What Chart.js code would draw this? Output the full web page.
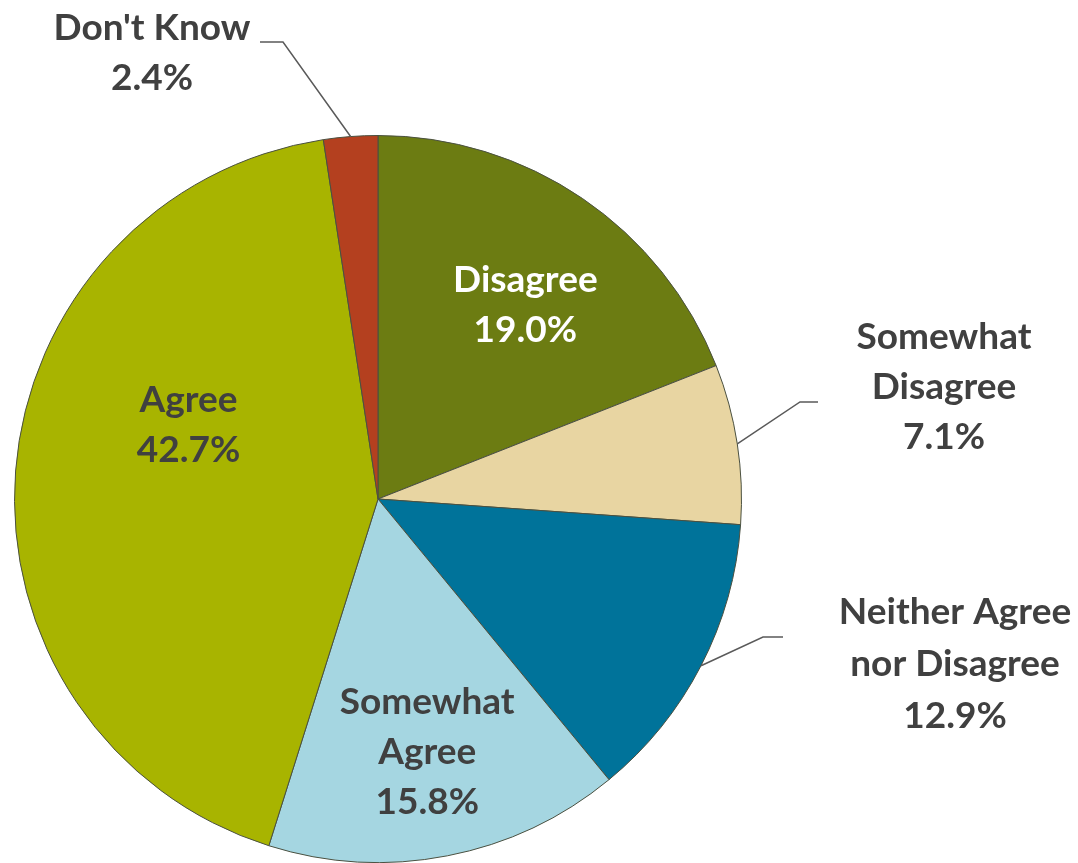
<!DOCTYPE html>
<html>
<head>
<meta charset="utf-8">
<script src="https://cdn.jsdelivr.net/npm/chart.js@4"></script>
<style>
  html, body { margin: 0; padding: 0; background: #fff; }
  #wrap { width: 1078px; height: 863px; }
</style>
</head>
<body>
<div id="wrap"><canvas id="pieChart" width="1078" height="863"></canvas></div>
<script>
// survey responses, clockwise from 12 o'clock
const categories = ['Disagree', 'Somewhat Disagree', 'Neither Agree nor Disagree', 'Somewhat Agree', 'Agree', "Don't Know"];
const shares = [19.0, 7.1, 12.9, 15.8, 42.7, 2.4];
const labelLines = [
  ['Disagree'],
  ['Somewhat', 'Disagree'],
  ['Neither Agree', 'nor Disagree'],
  ['Somewhat', 'Agree'],
  ['Agree'],
  ["Don't Know"]
];
const sliceColors = ['#6c7c12', '#e8d5a2', '#00739a', '#a5d6e1', '#a8b400', '#b4401f'];

// where each label sits: inside ones by polar offset from the slice middle,
// outside ones get a leader line (elbow + tail) and a text block
const labelLayout = [
  { inside: true, angleShift: 3, radius: 0.67, color: '#ffffff' },
  { elbow: [800, 402], tail: [818, 402], text: [944, 337] },
  { elbow: [763, 637], tail: [783, 637], text: [955, 612], lineH: 52 },
  { inside: true, angleShift: 0, radius: 0.71, color: '#404040' },
  { inside: true, angleShift: 17, radius: 0.56, color: '#404040' },
  { elbow: [283, 42], tail: [260, 42], text: [152, 28] }
];

const LINE_H = 50;
const FONT = 'bold 37px Lato, "Open Sans", sans-serif';

const pieLabels = {
  id: 'pieLabels',
  afterDatasetsDraw(chart) {
    const { ctx } = chart;
    const arcs = chart.getDatasetMeta(0).data;
    ctx.save();
    ctx.font = FONT;
    ctx.textAlign = 'center';
    ctx.textBaseline = 'middle';
    arcs.forEach((arc, i) => {
      const lay = labelLayout[i];
      const lh = lay.lineH || LINE_H;
      const mid = (arc.startAngle + arc.endAngle) / 2;
      const lines = labelLines[i].concat([shares[i].toFixed(1) + '%']);
      let tx, ty;
      if (lay.inside) {
        const a = mid + lay.angleShift * Math.PI / 180;
        const r = arc.outerRadius * lay.radius;
        tx = arc.x + Math.cos(a) * r;
        ty = arc.y + Math.sin(a) * r - (lines.length - 1) * lh / 2;
        ctx.fillStyle = lay.color;
      } else {
        const ax = arc.x + Math.cos(mid) * arc.outerRadius;
        const ay = arc.y + Math.sin(mid) * arc.outerRadius;
        ctx.strokeStyle = '#5a5a5a';
        ctx.lineWidth = 1.5;
        ctx.beginPath();
        ctx.moveTo(ax, ay);
        ctx.lineTo(lay.elbow[0], lay.elbow[1]);
        ctx.lineTo(lay.tail[0], lay.tail[1]);
        ctx.stroke();
        tx = lay.text[0];
        ty = lay.text[1];
        ctx.fillStyle = '#404040';
      }
      lines.forEach((t, k) => ctx.fillText(t, tx, ty + k * lh));
    });
    ctx.restore();
  }
};

new Chart(document.getElementById('pieChart'), {
  type: 'pie',
  data: {
    labels: categories,
    datasets: [{
      data: shares,
      backgroundColor: sliceColors,
      borderColor: '#4a5040',
      borderWidth: 1
    }]
  },
  options: {
    responsive: false,
    animation: false,
    layout: { padding: { left: 14, right: 336, top: 135, bottom: 0 } },
    plugins: {
      legend: { display: false },
      tooltip: { enabled: false }
    }
  },
  plugins: [pieLabels]
});
</script>
</body>
</html>
